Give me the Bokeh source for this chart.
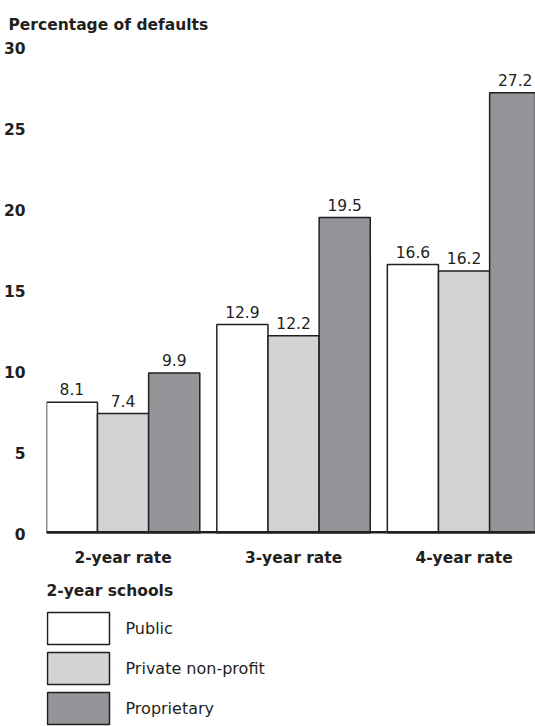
from bokeh.plotting import figure
from bokeh.models import Range1d, FixedTicker, Span, ColumnDataSource
from bokeh.layouts import column
from bokeh.transform import dodge
from bokeh.core.properties import value
from bokeh.embed import file_html
from bokeh.resources import INLINE

# ---- data ----
categories = ["2-year rate", "3-year rate", "4-year rate"]
schools = ["Public", "Private non-profit", "Proprietary"]
public = [8.1, 12.9, 16.6]
private_nonprofit = [7.4, 12.2, 16.2]
proprietary = [9.9, 19.5, 27.2]
y_ticks = [0, 5, 10, 15, 20, 25, 30]
y_title = "Percentage of defaults"
legend_title = "2-year schools"
colors = ["#ffffff", "#d1d3d4", "#939598"]

FONT = "DejaVu Sans"
INK = "#231f20"
BOLD_SIZE = "15.5px"
REG_SIZE = "15.5px"
W = 535
H_CHART = 576
H_LEGEND = 150
FRAME_LEFT = 46
FRAME_TOP = 47
FRAME_BOTTOM_BORDER = 43

# ---- main chart ----
p = figure(width=W, height=H_CHART, x_range=Range1d(-0.449, 2.419), y_range=Range1d(0, 30),
           output_backend="svg", toolbar_location=None,
           min_border_left=FRAME_LEFT, min_border_right=0, min_border_top=FRAME_TOP,
           min_border_bottom=FRAME_BOTTOM_BORDER, title=y_title)
p.outline_line_color = None
p.grid.visible = False
p.background_fill_color = "white"
p.border_fill_color = "white"

p.title.text_font = FONT
p.title.text_font_size = BOLD_SIZE
p.title.text_font_style = "bold"
p.title.text_color = INK
p.title.align = "left"
p.title.offset = -38
p.title.vertical_align = "top"
p.title.standoff = 23

series = [public, private_nonprofit, proprietary]
bar_w = 0.3
for i, (name, vals, col) in enumerate(zip(schools, series, colors)):
    off = (i - 1) * bar_w
    xs = [j + off for j in range(len(categories))]
    src = ColumnDataSource(dict(x=xs, top=vals, label=[f"{v:.1f}" for v in vals]))
    p.vbar(x="x", top="top", bottom=0, width=bar_w, source=src,
           fill_color=col, line_color=INK, line_width=1.5)
    p.text(x="x", y=dodge("top", 0.42), text="label", source=src, text_align="center",
           text_baseline="bottom", text_font=value(FONT),
           text_font_size=REG_SIZE, text_color=INK)

p.add_layout(Span(location=0, dimension="width", line_color=INK, line_width=5))

for ax in (p.xaxis, p.yaxis):
    ax.axis_line_color = None
    ax.major_tick_line_color = None
    ax.minor_tick_line_color = None
    ax.major_label_text_font = FONT
    ax.major_label_text_font_size = BOLD_SIZE
    ax.major_label_text_font_style = "bold"
    ax.major_label_text_color = INK

p.yaxis.ticker = FixedTicker(ticks=y_ticks)
p.yaxis.major_label_standoff = 15
p.xaxis.ticker = FixedTicker(ticks=list(range(len(categories))))
p.xaxis.major_label_overrides = {i: c for i, c in enumerate(categories)}
p.xaxis.major_label_standoff = 9

# ---- legend panel (its frame is aligned with the chart frame) ----
lg = figure(width=W, height=H_LEGEND, x_range=Range1d(FRAME_LEFT, W), y_range=Range1d(H_LEGEND, 0),
            output_backend="svg", toolbar_location=None, min_border=0,
            min_border_left=FRAME_LEFT, x_axis_type=None, y_axis_type=None)
lg.outline_line_color = None
lg.grid.visible = False

row_top0, row_step, box_h = 36, 40, 32
tops = [row_top0 + row_step * i for i in range(len(schools))]
lsrc = ColumnDataSource(dict(
    top=tops, bottom=[t + box_h for t in tops], color=colors, name=schools,
    ly=[t + box_h / 2 for t in tops]))
lg.quad(left=FRAME_LEFT + 1, right=FRAME_LEFT + 63, top="top", bottom="bottom",
        fill_color="color", line_color=INK, line_width=1.5, source=lsrc)
lg.text(x=FRAME_LEFT + 79, y="ly", text="name", source=lsrc, text_baseline="middle",
        text_font=value(FONT), text_font_size="16px", text_color=INK)
lg.text(x=[FRAME_LEFT], y=[14], text=[legend_title], text_baseline="middle",
        text_font=value(FONT), text_font_size=BOLD_SIZE, text_font_style="bold",
        text_color=INK)

layout = column(p, lg, spacing=0)
open("out.html", "w").write(file_html(layout, INLINE))
